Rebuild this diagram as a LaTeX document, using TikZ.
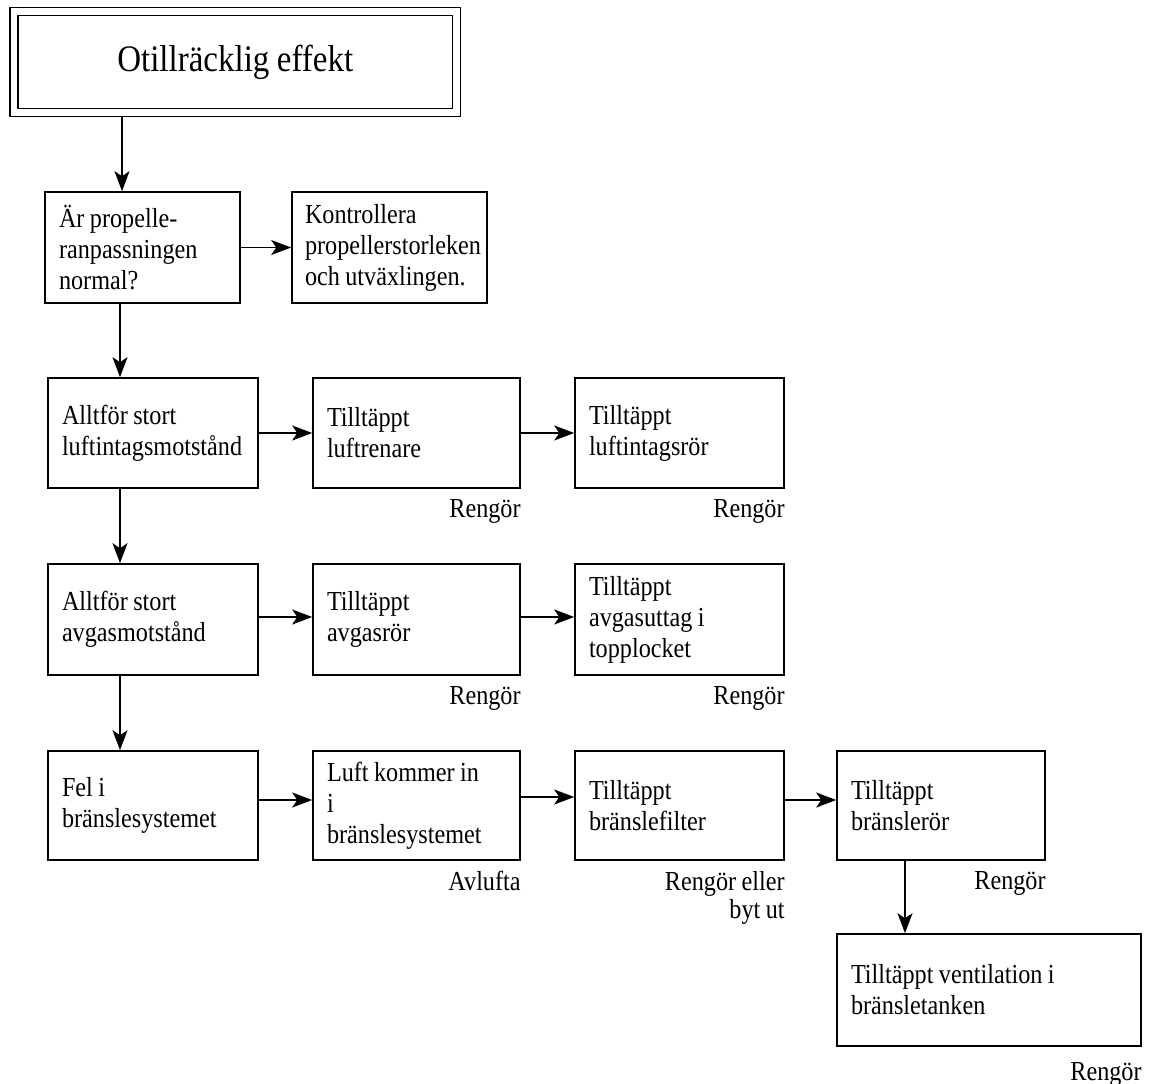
\documentclass[tikz,border=0pt]{standalone}
\usepackage{fontspec}
\setmainfont{Liberation Serif}[FakeStretch=0.88, WordSpace=0.9]
\usetikzlibrary{arrows.meta}
\newcommand\bodyfont{\fontsize{27.5}{31}\selectfont}
\newcommand\titlefont{\fontsize{37.5}{40}\selectfont}
\begin{document}
\begin{tikzpicture}[x=1pt,y=-1pt,
  box/.style={draw, line width=1.6pt, inner xsep=14pt, inner ysep=0pt, align=flush left, font=\bodyfont, anchor=center},
  arr/.style={line width=1.5pt, -{Stealth[length=20pt,width=15pt,inset=5pt]}},
  note/.style={font=\bodyfont, inner sep=0pt, anchor=north east, align=flush right}]
\useasboundingbox (0,0) rectangle (1154,1084);
% title
\node[draw, double, double distance=6.5pt, line width=1.5pt, outer sep=4.8pt,
      minimum width=442.5pt, minimum height=101pt, inner sep=0pt, font=\titlefont]
      (top) at (235.25,62) {Otillräcklig effekt};
% row A
\node[box, minimum width=195pt, text width=167pt, minimum height=111pt] (A1) at (142.5,247.5) {Är propelle-\\ranpassningen\\normal?};
\node[box, inner xsep=13pt, minimum width=195pt, text width=169pt, minimum height=111pt] (K) at (389.5,247.5) {Kontrollera\\propellerstorleken\\och utväxlingen.};
% row B
\node[box, minimum width=210pt, text width=182pt, minimum height=110pt] (B1) at (153,433) {Alltför stort\\luftintagsmotstånd};
\node[box, minimum width=207pt, text width=179pt, minimum height=110pt] (B2) at (416.5,433) {Tilltäppt\\luftrenare};
\node[box, minimum width=209pt, text width=181pt, minimum height=110pt] (B3) at (679.5,433) {Tilltäppt\\luftintagsrör};
% row C
\node[box, minimum width=210pt, text width=182pt, minimum height=111pt] (C1) at (153,619.5) {Alltför stort\\avgasmotstånd};
\node[box, minimum width=207pt, text width=179pt, minimum height=111pt] (C2) at (416.5,619.5) {Tilltäppt\\avgasrör};
\node[box, minimum width=209pt, text width=181pt, minimum height=111pt] (C3) at (679.5,619.5) {Tilltäppt\\avgasuttag i\\topplocket};
% row D
\node[box, minimum width=210pt, text width=182pt, minimum height=109pt] (D1) at (153,805.5) {Fel i\\bränslesystemet};
\node[box, minimum width=207pt, text width=179pt, minimum height=109pt] (D2) at (416.5,805.5) {Luft kommer in\\i\\bränslesystemet};
\node[box, minimum width=209pt, text width=181pt, minimum height=109pt] (D3) at (679.5,805.5) {Tilltäppt\\bränslefilter};
\node[box, minimum width=208pt, text width=180pt, minimum height=109pt] (D4) at (941,805.5) {Tilltäppt\\bränslerör};
% row E
\node[box, minimum width=304pt, text width=276pt, minimum height=112pt] (E) at (989,990) {Tilltäppt ventilation i\\bränsletanken};
% notes
\node[note] (nB2) at ([yshift=-10pt]B2.south east) {Rengör};
\node[note] (nB3) at ([yshift=-10pt]B3.south east) {Rengör};
\node[note] (nC2) at ([yshift=-10pt]C2.south east) {Rengör};
\node[note] (nC3) at ([yshift=-10pt]C3.south east) {Rengör};
\node[note] (nD2) at ([yshift=-10pt]D2.south east) {Avlufta};
\node[note, font=\fontsize{27.5}{28}\selectfont] (nD3) at ([yshift=-10pt]D3.south east) {Rengör eller\\byt ut};
\node[note] (nD4) at ([yshift=-10pt]D4.south east) {Rengör};
\node[note] (nE) at ([yshift=-15pt]E.south east) {Rengör};
% vertical arrows
\draw[arr] (top.south -| 122,0) -- (A1.north -| 122,0);
\draw[arr] (A1.south -| 120,0) -- (B1.north -| 120,0);
\draw[arr] (B1.south -| 120,0) -- (C1.north -| 120,0);
\draw[arr] (C1.south -| 120,0) -- (D1.north -| 120,0);
\draw[arr] (D4.south -| 905,0) -- (E.north -| 905,0);
% horizontal arrows
\draw[arr] (A1.east) -- (K.west);
\draw[arr] (B1.east) -- (B2.west);
\draw[arr] (B2.east) -- (B3.west);
\draw[arr] (C1.east |- 0,617) -- (C2.west |- 0,617);
\draw[arr] (C2.east |- 0,617) -- (C3.west |- 0,617);
\draw[arr] (D1.east |- 0,800) -- (D2.west |- 0,800);
\draw[arr] (D2.east |- 0,797) -- (D3.west |- 0,797);
\draw[arr] (D3.east |- 0,800) -- (D4.west |- 0,800);
\end{tikzpicture}
\end{document}
